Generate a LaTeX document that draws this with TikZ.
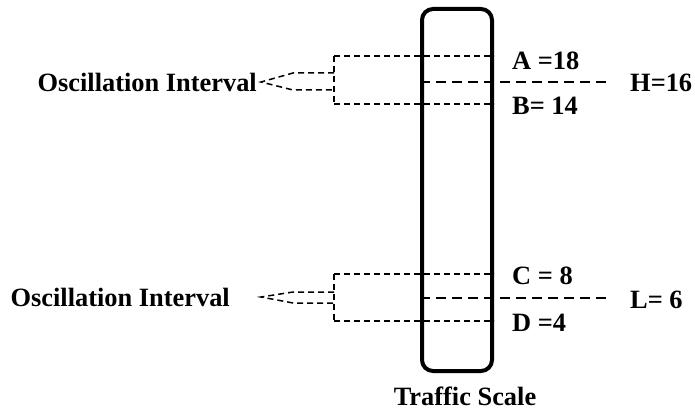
\documentclass[tikz,border=0pt]{standalone}
\usepackage{fontspec}
\setmainfont{Liberation Serif}
\usetikzlibrary{positioning,calc}

\begin{document}
\begin{tikzpicture}[
  x=1pt,y=-1pt,
  font=\fontsize{26.4}{30}\selectfont\bfseries,
  scalebox/.style={draw,line width=4pt,rounded corners=11pt,minimum width=70pt,minimum height=362pt,inner sep=0pt},
  lvl/.style={line width=1.5pt,dash pattern=on 6pt off 4pt},
  mid/.style={line width=2.2pt,dash pattern=on 10pt off 6pt},
  lab/.style={anchor=west,inner sep=0pt},
]
  \useasboundingbox (0,0) rectangle (695,414);
  % ---------------- escala ----------------
  \node[scalebox] (scale) at (457,190) {};
  \node[inner sep=0pt] (scalename) at (465,396) {Traffic Scale};
  % ---------------- intervalo alto ----------------
  \coordinate (a0) at (334,56);  \coordinate (b0) at (334,104);
  \coordinate (h1) at (612,82);
  \draw[lvl] (a0) -- (scale.east |- a0);
  \draw[lvl] (b0) -- (scale.east |- b0);
  \draw[lvl] (a0) -- (b0);
  \draw[mid] (scale.west |- h1) -- (h1);
  \draw[lvl] (334,73) -- (293,73) -- (261,82) -- (293,90) -- (334,90);
  \node[lab] (A) at (512,61)  {A =18};
  \node[lab] (B) at (512,106) {B= 14};
  \node[lab] (H) at (630,83)  {H=16};
  \node[inner sep=0pt,anchor=east] (osc1) at (257,82) {Oscillation Interval};
  % ---------------- intervalo bajo ----------------
  \coordinate (c0) at (334,274); \coordinate (d0) at (334,321);
  \coordinate (l1) at (607,298);
  \draw[lvl] (c0) -- (scale.east |- c0);
  \draw[lvl] (d0) -- (scale.east |- d0);
  \draw[lvl] (c0) -- (d0);
  \draw[mid] (scale.west |- l1) -- (l1);
  \draw[lvl] (334,292) -- (293,292) -- (261,297) -- (293,303) -- (334,303);
  \node[lab] (C) at (512,276) {C = 8};
  \node[lab] (D) at (512,323) {D =4};
  \node[lab] (L) at (630,300) {L= 6};
  \node[inner sep=0pt,anchor=east] (osc2) at (230,297) {Oscillation Interval};
\end{tikzpicture}
\end{document}
